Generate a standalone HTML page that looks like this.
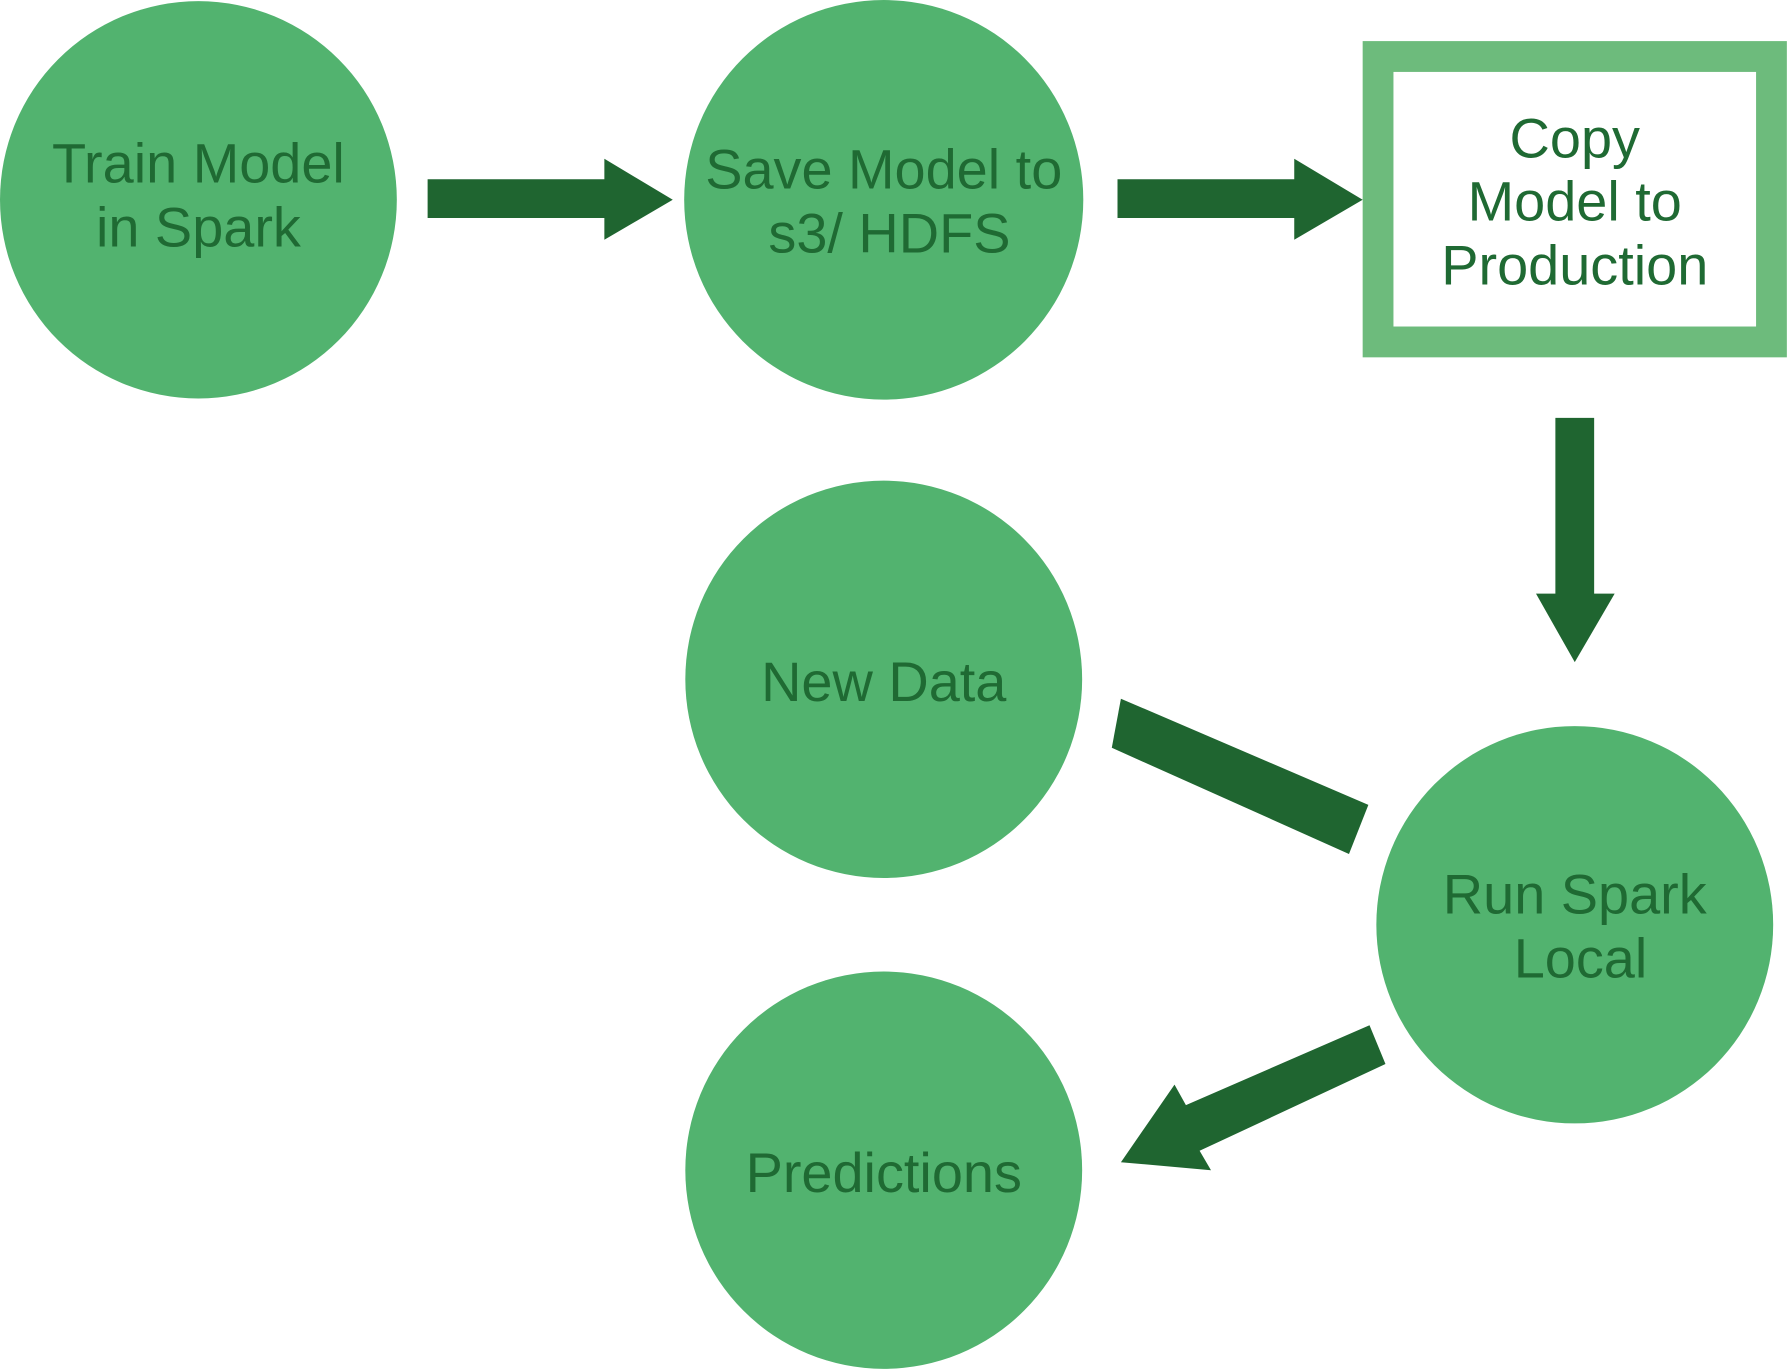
<!DOCTYPE html>
<html><head><meta charset="utf-8"><style>
html,body{margin:0;padding:0;background:#fff;}
svg{display:block;}
text{font-family:"Liberation Sans",Arial,sans-serif;font-size:49px;fill:#1f6a33;text-anchor:middle;}
</style></head><body>
<svg width="1788" height="1370" viewBox="0 0 1568 1200" preserveAspectRatio="none" xmlns="http://www.w3.org/2000/svg">
<rect width="1568" height="1200" fill="#fff"/>
<g fill="#52b36f">
<circle cx="174" cy="175" r="174"/>
<circle cx="775" cy="175" r="175"/>
<circle cx="775" cy="595" r="174"/>
<circle cx="1381" cy="810" r="174"/>
<circle cx="775" cy="1025" r="174"/>
</g>
<rect x="1208.5" y="49.5" width="345" height="250" fill="#fff" stroke="#6dbb7c" stroke-width="27"/>
<g fill="#1f6530">
<polygon points="375,157 530,157 530,139 590,175 530,210 530,191 375,191"/>
<polygon points="980,157 1135,157 1135,139 1195,175 1135,210 1135,191 980,191"/>
<polygon points="1364,366 1398,366 1398,520 1416,520 1381,580 1347,520 1364,520"/>
<polygon points="983,612 1200,705 1183,748 975,655"/>
<polygon points="1201,898 1215,932 1052,1008 1062,1025 983,1018 1030,950 1040,968"/>
</g>
<text x="174" y="160">Train Model</text>
<text x="174" y="216">in Spark</text>
<text x="775" y="165">Save Model to</text>
<text x="780" y="221">s3/ HDFS</text>
<text x="1381" y="138">Copy</text>
<text x="1381" y="193">Model to</text>
<text x="1381" y="249">Production</text>
<text x="775" y="614">New Data</text>
<text x="1381" y="800">Run Spark</text>
<text x="1386" y="856">Local</text>
<text x="775" y="1044">Predictions</text>
</svg>
</body></html>
